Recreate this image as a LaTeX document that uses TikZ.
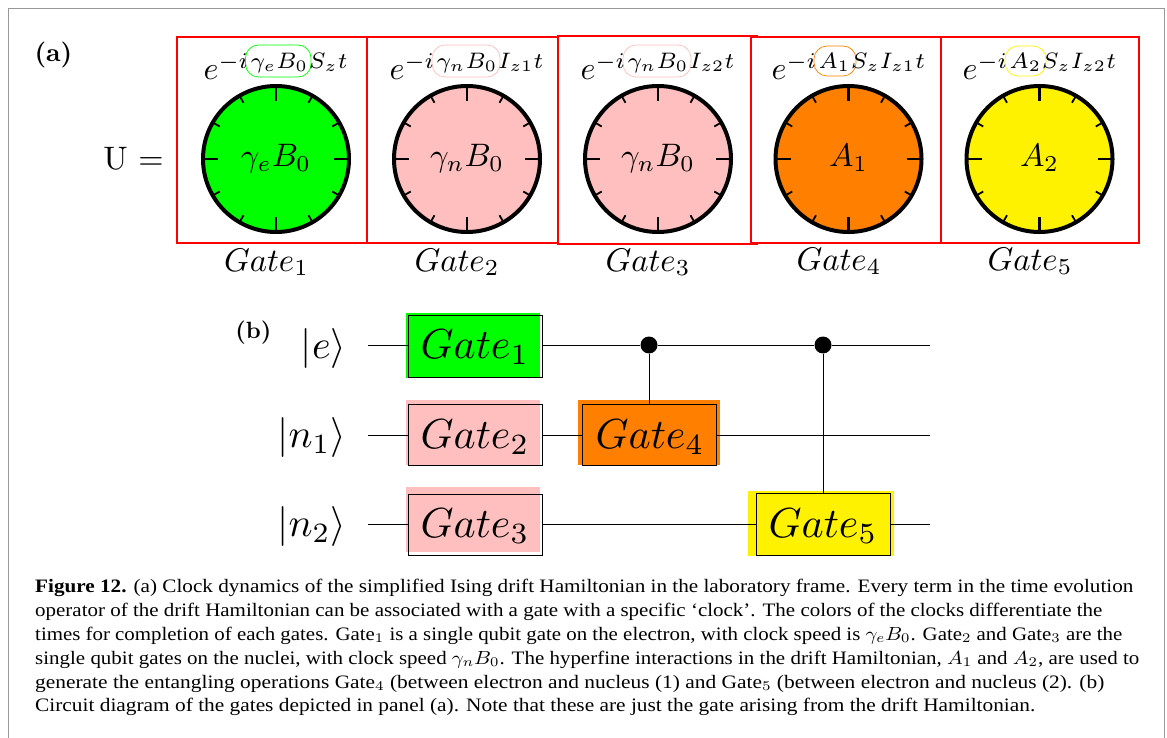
\documentclass[tikz,border=0pt]{standalone}
\usepackage{graphicx}
\usepackage{fontspec}
\setmainfont{Liberation Serif}
\definecolor{cgreen}{RGB}{0,255,0}
\definecolor{cpink}{RGB}{255,191,191}
\definecolor{corange}{RGB}{255,128,0}
\definecolor{cyellow}{RGB}{255,242,0}
\definecolor{cred}{RGB}{255,0,0}
\tikzset{
  redbox/.style={draw=cred,line width=2pt},
  clockface/.style={draw=black,line width=4pt},
  longtick/.style={draw=black,line width=2.4pt},
  shorttick/.style={draw=black,line width=1.8pt},
  clocklbl/.style={scale=3.25,inner sep=0pt,anchor=base},
  expr/.style={anchor=base west,inner sep=0pt,scale=3.2},
  pill/.style={rounded corners=13pt,line width=.7pt},
  gatecap/.style={anchor=base,inner sep=0pt,scale=3.28},
  wire/.style={line width=.9pt,draw=black},
  gatebox/.style={draw=black,line width=.9pt,rectangle,inner sep=0pt},
  gatetxt/.style={scale=4.2,inner sep=0pt,anchor=base},
  ket/.style={scale=4,inner sep=0pt,anchor=base east},
  ctrl/.style={circle,fill=black,inner sep=0pt,minimum size=17pt},
  panel/.style={anchor=base west,inner sep=0pt},
  capline/.style={anchor=base west,inner sep=0pt},
}
\newcommand{\capl}[3]{\node[capline] (cap#1) at (35,#1) {\resizebox{#2pt}{1.9\height}{#3}};}
\newcommand{\clock}[4]{% x, colour, label, name
  \node[circle,fill=#2,clockface,minimum size=146pt,inner sep=0pt] (#4) at (#1,159) {};
  \foreach \a in {0,90,180,270}{\draw[longtick] (#4.center) ++(\a:74) -- ++(\a:-16);}
  \foreach \a in {30,60,120,150,210,240,300,330}{\draw[shorttick] (#4.center) ++(\a:74) -- ++(\a:-9);}
  \node[clocklbl] (#4l) at (#1,167) {$#3$};
}
\begin{document}
\begin{tikzpicture}[x=1pt,y=-1pt]
\useasboundingbox (0,0) rectangle (1167,738);
\draw[draw=black!40,line width=1pt] (8,738) -- (8,8.5) -- (1164,8.5) -- (1164,738);
\node[panel,scale=2.6] (pa) at (34,62) {\fontfamily{lmr}\fontseries{bx}\selectfont (a)};
\node[panel,scale=2.35] (pb) at (235,338) {\fontfamily{lmr}\fontseries{bx}\selectfont (b)};
\node[inner sep=0pt,anchor=base,scale=3.25] (U) at (133.5,170) {\fontfamily{lmr}\selectfont U $=$};
\draw[redbox] (177,37) rectangle (367,243);
\draw[redbox] (367,37) rectangle (558,243);
\draw[redbox] (757.5,36.5) -- (558,36.5) -- (558,243.5) -- (757.5,243.5);
\draw[redbox] (750.5,37) rectangle (941,243);
\draw[redbox] (941,37) rectangle (1139,243);
\clock{276}{cgreen}{\gamma_e B_0}{c1}
\clock{467}{cpink}{\gamma_n B_0}{c2}
\clock{658}{cpink}{\gamma_n B_0}{c3}
\clock{848.5}{corange}{A_1}{c4}
\clock{1039.5}{cyellow}{A_2}{c5}
\draw[pill,draw=cgreen] (245.5,45) rectangle (311,77);
\draw[pill,draw=cpink] (432,45) rectangle (500,77);
\draw[pill,draw=cpink] (623,45) rectangle (691,77);
\draw[pill,draw=corange] (814,46) rectangle (856,76);
\draw[pill,draw=cyellow] (1005,46) rectangle (1046,76);
\node[expr] (e1) at (203,80) {$e^{-i\mkern2mu\gamma_e B_0\mkern0.5mu S_z t}$};
\node[expr] (e2) at (389,80) {$e^{-i\mkern2mu\gamma_n B_0\mkern0.5mu I_{z1} t}$};
\node[expr] (e3) at (580,80) {$e^{-i\mkern2mu\gamma_n B_0\mkern0.5mu I_{z2} t}$};
\node[expr] (e4) at (771,80) {$e^{-i\mkern2mu A_1\mkern0.5mu S_z I_{z1} t}$};
\node[expr] (e5) at (962,80) {$e^{-i\mkern2mu A_2\mkern0.5mu S_z I_{z2} t}$};
\node[gatecap] (g1) at (266.5,271) {$Gate_1$};
\node[gatecap] (g2) at (457,271) {$Gate_2$};
\node[gatecap] (g3) at (648,271) {$Gate_3$};
\node[gatecap] (g4) at (839,270) {$Gate_4$};
\node[gatecap] (g5) at (1030,270) {$Gate_5$};
% circuit
\coordinate (w1a) at (368,345); \coordinate (w1b) at (930,345);
\coordinate (w2a) at (368,435); \coordinate (w2b) at (930,435);
\coordinate (w3a) at (368,524); \coordinate (w3b) at (930,524);
\fill[cgreen] (406,313) rectangle (540,378);
\fill[cpink] (406,400) rectangle (540,465);
\fill[cpink] (406,487) rectangle (540,552);
\fill[corange] (578,400) rectangle (720,465);
\fill[cyellow] (748,491) rectangle (894,555.5);
\node[gatebox,minimum width=133.5pt,minimum height=62pt] (b1) at (475.25,346) {};
\node[gatebox,minimum width=133.5pt,minimum height=60.5pt] (b2) at (475.25,434.75) {};
\node[gatebox,minimum width=133.5pt,minimum height=61pt] (b3) at (475.25,524.5) {};
\node[gatebox,minimum width=134pt,minimum height=60.5pt] (b4) at (649,434.75) {};
\node[gatebox,minimum width=134pt,minimum height=62pt] (b5) at (823,524) {};
\node[gatetxt] (t1) at (475,358) {$Gate_1$};
\node[gatetxt] (t2) at (475,448) {$Gate_2$};
\node[gatetxt] (t3) at (475,537) {$Gate_3$};
\node[gatetxt] (t4) at (650,448) {$Gate_4$};
\node[gatetxt] (t5) at (823,537) {$Gate_5$};
\node[ctrl] (d1) at (649,345) {};
\node[ctrl] (d2) at (823,345) {};
\draw[wire] (w1a) -- (w1a -| b1.west);
\draw[wire] (w1a -| b1.east) -- (d1);
\draw[wire] (d1) -- (d2);
\draw[wire] (d2) -- (w1b);
\draw[wire] (w2a) -- (w2a -| b2.west);
\draw[wire] (w2a -| b2.east) -- (w2a -| b4.west);
\draw[wire] (w2a -| b4.east) -- (w2b);
\draw[wire] (w3a) -- (w3a -| b3.west);
\draw[wire] (w3a -| b3.east) -- (w3a -| b5.west);
\draw[wire] (w3a -| b5.east) -- (w3b);
\draw[wire] (d1) -- (b4.north);
\draw[wire] (d2) -- (b5.north);
\node[ket] (k1) at (347,358) {$|e\rangle$};
\node[ket] (k2) at (347,447) {$|n_1\rangle$};
\node[ket] (k3) at (347,536) {$|n_2\rangle$};
% caption
\capl{592}{1098}{\textbf{Figure 12.} (a) Clock dynamics of the simplified Ising drift Hamiltonian in the laboratory frame. Every term in the time evolution}
\capl{616}{1067}{operator of the drift Hamiltonian can be associated with a gate with a specific ‘clock’. The colors of the clocks differentiate the}
\capl{640}{1087}{times for completion of each gates. Gate$_1$ is a single qubit gate on the electron, with clock speed is $\gamma_e B_0$. Gate$_2$ and Gate$_3$ are the}
\capl{664}{1104}{single qubit gates on the nuclei, with clock speed $\gamma_n B_0$. The hyperfine interactions in the drift Hamiltonian, $A_1$ and $A_2$, are used to}
\capl{688}{1069}{generate the entangling operations Gate$_4$ (between electron and nucleus (1) and Gate$_5$ (between electron and nucleus (2). (b)}
\capl{711}{1000}{Circuit diagram of the gates depicted in panel (a). Note that these are just the gate arising from the drift Hamiltonian.}
\end{tikzpicture}
\end{document}
